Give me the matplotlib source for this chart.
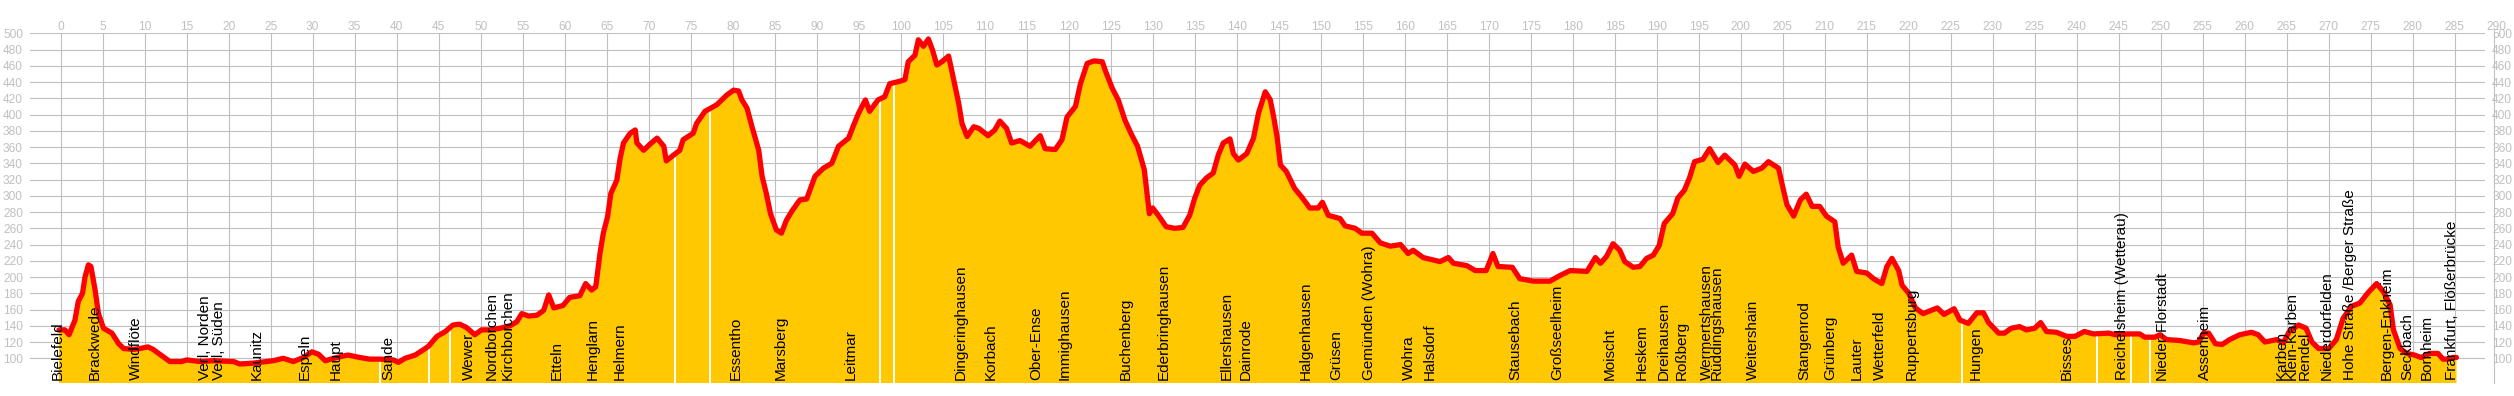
import numpy as np
import matplotlib.pyplot as plt

# elevation profile (km along route, metres)
km = [-0.2, 0.5, 1.0, 1.7, 2.1, 2.6, 2.9, 3.3, 3.6, 4.1, 4.5, 5.1, 6.1, 6.9, 7.5, 8.7, 9.4, 10.4, 11.0, 12.2,
      13.0, 14.4, 15.0, 16.6, 18.2, 20.6, 21.3, 22.9, 25.3, 26.5, 27.7, 28.9, 29.9, 30.7, 31.5, 32.5, 33.3, 34.2,
      35.6, 36.8, 38.0, 39.6, 40.2, 41.0, 42.2, 43.4, 43.8, 44.8, 45.8, 46.7, 47.5, 48.3, 49.3, 50.1, 51.1, 52.3,
      53.5, 54.3, 54.9, 55.7, 56.7, 57.5, 58.1, 58.7, 59.8, 60.6, 61.8, 62.5, 63.2, 63.7, 64.2, 64.6, 65.1, 65.5,
      66.2, 66.6, 67.0, 67.8, 68.4, 68.6, 69.4, 70.2, 71.0, 71.8, 72.1, 72.7, 73.7, 74.1, 75.3, 75.7, 76.7, 78.1,
      79.3, 80.1, 80.7, 81.1, 81.7, 82.3, 83.1, 83.5, 84.0, 84.5, 85.2, 85.8, 86.4, 87.1, 88.0, 88.8, 89.8, 90.8,
      91.8, 92.6, 93.8, 94.4, 95.0, 95.8, 96.3, 97.3, 98.1, 98.7, 99.9, 100.5, 100.9, 101.7, 102.1, 102.7, 103.3,
      103.8, 104.3, 104.9, 105.7, 106.1, 106.9, 107.3, 107.9, 108.7, 109.3, 110.4, 111.2, 111.8, 112.6, 113.2,
      114.2, 115.4, 116.6, 117.2, 118.4, 119.2, 119.8, 120.8, 121.4, 122.2, 123.0, 124.0, 124.4, 125.2, 125.9,
      126.7, 127.4, 128.2, 129.0, 129.6, 130.0, 130.8, 131.6, 132.6, 133.6, 134.4, 135.0, 135.6, 136.4, 137.2,
      137.8, 138.4, 139.2, 139.6, 140.2, 141.2, 142.0, 142.6, 143.4, 144.0, 144.4, 144.8, 145.2, 145.9, 146.9,
      147.7, 148.7, 149.7, 150.2, 150.9, 152.3, 152.9, 154.1, 154.9, 156.1, 157.1, 158.3, 159.5, 160.4, 161.0,
      162.2, 164.2, 165.2, 165.8, 167.4, 168.4, 169.7, 170.5, 171.1, 172.8, 173.7, 175.3, 177.3, 178.5, 179.7,
      181.7, 182.7, 183.3, 184.0, 184.8, 185.6, 186.2, 187.2, 188.0, 188.8, 189.6, 190.3, 190.9, 191.9, 192.5,
      193.3, 193.9, 194.5, 195.5, 196.3, 197.3, 198.1, 199.3, 199.8, 200.5, 201.5, 202.5, 203.3, 204.5, 205.0,
      205.5, 206.3, 207.1, 207.8, 208.5, 209.4, 210.2, 211.2, 211.6, 212.2, 213.2, 213.8, 215.0, 215.8, 216.8,
      217.4, 218.0, 218.8, 219.2, 220.0, 220.8, 221.7, 223.4, 224.2, 225.4, 226.1, 227.1, 228.1, 228.9, 229.5,
      230.7, 231.4, 232.2, 233.2, 234.0, 235.0, 235.7, 236.4, 237.6, 238.8, 239.8, 240.9, 242.0, 243.8, 244.6,
      246.0, 247.5, 248.1, 249.3, 249.9, 250.7, 252.2, 253.9, 254.5, 255.1, 255.7, 256.5, 257.3, 258.2, 259.4,
      260.8, 261.6, 262.4, 263.8, 264.6, 265.3, 266.4, 267.3, 268.0, 268.8, 270.0, 270.9, 271.7, 272.7, 273.7,
      274.7, 275.7, 276.5, 277.3, 277.7, 278.5, 279.3, 280.2, 281.0, 282.0, 283.0, 283.6, 284.2, 284.8, 285.2]
elev = [135, 135, 129, 147, 170, 180, 200, 215, 213, 184, 155, 137, 131, 118, 112, 111, 112, 114, 111, 102,
        96, 96, 98, 96, 97, 96, 93, 94, 97, 100, 96, 101, 108, 105, 97, 100, 102, 104,
        101, 99, 99, 98, 95, 100, 104, 112, 115, 127, 133, 141, 142, 138, 129, 135, 135, 137,
        140, 145, 155, 152, 153, 159, 178, 162, 165, 175, 177, 192, 184, 188, 229, 254, 274, 303,
        319, 346, 365, 377, 381, 365, 356, 364, 371, 361, 343, 348, 356, 369, 377, 389, 404, 412,
        424, 430, 429, 418, 408, 385, 356, 324, 303, 278, 258, 254, 270, 282, 295, 296, 324, 334,
        340, 361, 371, 387, 402, 418, 404, 418, 422, 438, 441, 443, 465, 473, 492, 484, 493,
        479, 461, 465, 472, 453, 414, 389, 373, 385, 383, 374, 381, 392, 383, 365,
        368, 361, 374, 358, 357, 369, 397, 410, 438, 463, 466, 465, 453, 432, 418,
        393, 377, 361, 332, 278, 285, 274, 262, 260, 261, 276, 297, 313, 322, 328,
        350, 365, 370, 352, 344, 352, 371, 402, 428, 418, 397, 373, 338, 330, 309,
        299, 285, 285, 292, 276, 272, 263, 260, 254, 254, 242, 238, 240, 229, 233,
        224, 219, 224, 217, 214, 208, 208, 229, 213, 212, 198, 195, 195, 202, 208,
        207, 224, 217, 225, 241, 233, 219, 212, 213, 223, 227, 239, 266, 278, 297,
        307, 322, 342, 345, 358, 341, 350, 338, 324, 339, 330, 334, 342, 334, 311,
        289, 275, 295, 302, 287, 287, 275, 268, 237, 217, 227, 207, 205, 198, 192,
        213, 223, 208, 190, 180, 162, 155, 162, 154, 161, 147, 143, 156, 156, 144,
        131, 131, 137, 139, 135, 137, 144, 133, 132, 127, 127, 133, 130, 131, 129,
        130, 130, 126, 126, 129, 123, 122, 119, 120, 131, 131, 118, 117, 123, 129,
        132, 129, 120, 123, 119, 133, 141, 137, 120, 112, 112, 123, 149, 164, 168,
        181, 192, 182, 166, 135, 112, 106, 104, 101, 106, 106, 99, 99, 101, 101]

# places where the filled profile has a break
gaps_km = [38.0, 43.9, 46.3, 73.1, 77.3, 97.5, 99.2, 226.4, 242.4, 246.5, 248.7]

stations = ["Bielefeld", "Brackwede", "Windflöte", "Verl, Norden", "Verl, Süden", "Kaunitz", "Espeln", "Haupt",
            "Sande", "Wewer", "Nordborchen", "Kirchborchen", "Etteln", "Henglarn", "Helmern", "Essentho",
            "Marsberg", "Leitmar", "Dingeringhausen", "Korbach", "Ober-Ense", "Immighausen", "Buchenberg",
            "Ederbringhausen", "Ellershausen", "Dainrode", "Halgenhausen", "Grüsen", "Gemünden (Wohra)", "Wohra",
            "Halsdorf", "Stausebach", "Großseelheim", "Moischt", "Heskem", "Dreihausen", "Roßberg",
            "Wermertshausen", "Rüddingshausen", "Weitershain", "Stangenrod", "Grünberg", "Lauter", "Wetterfeld",
            "Ruppertsburg", "Hungen", "Bisses", "Reichelsheim (Wetterau)", "Nieder-Florstadt", "Assenheim",
            "Karben", "Klein-Karben", "Rendel", "Niederdorfelden", "Hohe Straße /Berger Straße",
            "Bergen-Enkheim", "Seckbach", "Bornheim", "Frankfurt, Flößerbrücke"]
station_km = [-0.3, 4.1, 9.0, 17.2, 18.8, 23.4, 29.0, 32.7,
              39.0, 48.6, 51.3, 53.2, 59.0, 63.3, 66.6, 80.4,
              85.7, 94.0, 107.1, 110.7, 116.1, 119.5, 126.8,
              131.3, 138.8, 141.1, 148.2, 151.8, 155.8, 160.5,
              163.0, 173.2, 178.2, 184.4, 188.2, 190.8, 193.0,
              196.0, 197.1, 201.5, 207.6, 210.6, 213.8, 216.6,
              220.3, 228.0, 238.8, 245.4, 250.1, 255.3,
              264.4, 265.6, 267.1, 269.8, 272.5,
              276.9, 279.3, 281.7, 284.7]

km_ticks = list(range(0, 291, 5))
elev_ticks = list(range(100, 501, 20))

W, H = 2514, 396
grey = "#c0c0c0"
font = "Liberation Sans"

fig = plt.figure(figsize=(W / 100, H / 100), dpi=100)
ax = fig.add_axes([30 / W, 1 - 383 / H, (2485 - 30) / W, (383 - 33.3) / H])
ax.set_xlim(-3.65, 288.6)
ax.set_ylim(69.6, 500)

ax.set_xticks([k for k in km_ticks if k <= 285])
ax.set_yticks(elev_ticks)
ax.grid(True, color=grey, lw=0.8)
ax.set_axisbelow(True)
ax.tick_params(length=0, labelbottom=False, labelleft=False)
for s in ax.spines.values():
    s.set_visible(False)

ax.fill_between(km, 0, elev, color="#ffc800", lw=0, zorder=2)
ax.vlines(gaps_km, 60, np.interp(gaps_km, km, elev), colors="white", lw=1.4, zorder=3)
ax.plot(km, elev, color="#ff0000", lw=3.8, solid_joinstyle="round", solid_capstyle="round", zorder=4)

for name, k in zip(stations, station_km):
    ax.text(k, 73.3, name, rotation=90, ha="center", va="bottom", fontsize=11, family=font, zorder=5)

# axis labels drawn as text so they can sit outside the grid area
for k in km_ticks:
    ax.text(k, 504, str(k), ha="center", va="baseline", fontsize=8.6, color=grey, family=font, clip_on=False)
for e in elev_ticks:
    ax.text(-0.0029, e, str(e), transform=ax.get_yaxis_transform(), ha="right", va="center_baseline",
            fontsize=8.6, color=grey, family=font, clip_on=False)
    ax.text(1.0029, e, str(e), transform=ax.get_yaxis_transform(), ha="left", va="center_baseline",
            fontsize=8.6, color=grey, family=font, clip_on=False)
ax.plot([1.0037, 1.0037], [0.0, 1.0], transform=ax.transAxes, color=grey, lw=0.8, clip_on=False)

fig.savefig("out.png", dpi=100)
